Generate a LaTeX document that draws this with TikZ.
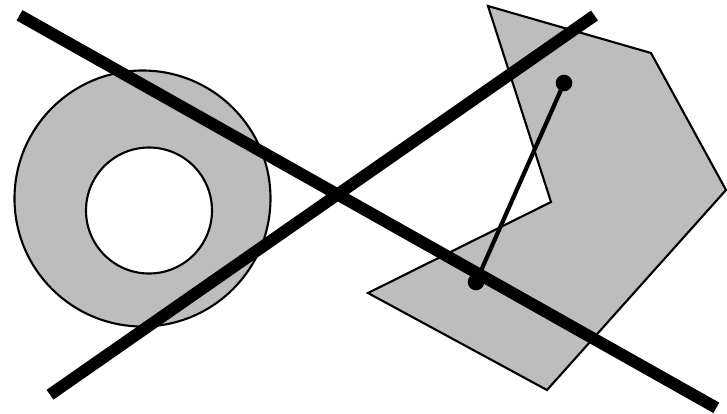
\documentclass[tikz,border=0pt]{standalone}
\usepackage{tikz}
\usetikzlibrary{calc}
\definecolor{shade}{gray}{0.74}

\begin{document}
\begin{tikzpicture}[x=0.02cm,y=-0.02cm]
        % Fix the frame
        \useasboundingbox (0,0) rectangle (727,413);
        % Define coordinates
        \coordinate (O1) at (142.5,198.5);
        \coordinate (O2) at (149,210.5);
        \coordinate (P1) at (488,6);
        \coordinate (P2) at (651,53);
        \coordinate (P3) at (726,190);
        \coordinate (P4) at (547,390);
        \coordinate (P5) at (368,293);
        \coordinate (P6) at (551,202);
        \coordinate (D1) at (564,83);
        \coordinate (D2) at (476,282);
        \coordinate (A1) at (19.5,15.3);
        \coordinate (A2) at (716.3,407.8);
        \coordinate (B1) at (50,394.7);
        \coordinate (B2) at (594.5,15.5);
        % Ring
        \filldraw[fill=shade, line width=1.2pt, even odd rule] (O1) circle (128) (O2) circle (63);
        % Polygon
        \filldraw[fill=shade, line width=1.2pt, line join=miter] (P1) -- (P2) -- (P3) -- (P4) -- (P5) -- (P6) -- cycle;
        % Segment with end points
        \draw[line width=2.4pt] (D1) -- (D2);
        \fill (D1) circle (8.3);
        \fill (D2) circle (8.3);
        % Crossing lines
        \draw[line width=6.8pt] (A1) -- (A2);
        \draw[line width=6.8pt] (B1) -- (B2);
      \end{tikzpicture}
\end{document}
